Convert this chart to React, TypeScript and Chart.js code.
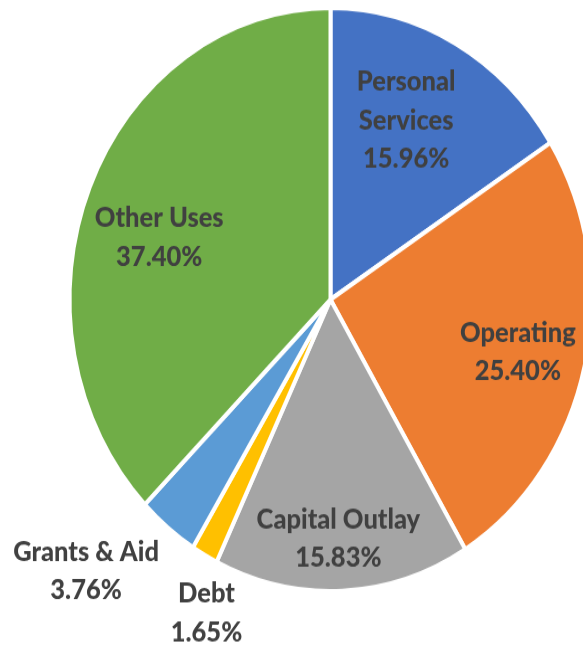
import React, { useEffect, useRef } from "react";
import { Chart, registerables } from "chart.js";

Chart.register(...registerables);

const categories = ["Personal Services", "Operating", "Capital Outlay", "Debt", "Grants & Aid", "Other Uses"];
const shares = [15.96, 25.4, 15.83, 1.65, 3.76, 37.4];
const sliceColors = ["#4472C4", "#ED7D31", "#A5A5A5", "#FFC000", "#5B9BD5", "#70AD47"];
const labelLines = [
  ["Personal", "Services"],
  ["Operating"],
  ["Capital Outlay"],
  ["Debt"],
  ["Grants & Aid"],
  ["Other Uses"],
];
// label placement: radial factor (of outer radius) and angular shift (deg)
const labelRadius = [0.68, 0.74, 0.82, 1.175, 1.32, 0.69];
const labelShift = [-3.5, 0.9, 0.5, -5.0, 6.6, -4.7];

const BUF_W = 661;
const BUF_H = 578;
const CSS_H = 646;

const labelPlugin = {
  id: "sliceLabels",
  afterDatasetsDraw(chart: any) {
    const { ctx } = chart;
    const meta = chart.getDatasetMeta(0);
    ctx.save();
    ctx.font = "900 25.5px Lato, 'Open Sans', sans-serif";
    ctx.fillStyle = "#404040";
    ctx.textAlign = "center";
    ctx.textBaseline = "middle";
    const lh = 34.5;
    meta.data.forEach((arc: any, i: number) => {
      const p = arc.getProps(["x", "y", "startAngle", "endAngle", "outerRadius"], true);
      const mid = (p.startAngle + p.endAngle) / 2 + (labelShift[i] * Math.PI) / 180;
      const r = p.outerRadius * labelRadius[i];
      const cx = p.x + Math.cos(mid) * r;
      const cy = p.y + Math.sin(mid) * r;
      const lines = [...labelLines[i], shares[i].toFixed(2) + "%"];
      const top = cy - ((lines.length - 1) * lh) / 2;
      lines.forEach((t, k) => ctx.fillText(t, cx, top + k * lh));
    });
    ctx.restore();
  },
};

export default function App() {
  const ref = useRef<HTMLCanvasElement>(null);
  useEffect(() => {
    document.body.style.margin = "0";
    document.body.style.overflow = "hidden";
    const chart = new Chart(ref.current!, {
      type: "pie",
      data: {
        labels: categories,
        datasets: [
          {
            data: shares,
            backgroundColor: sliceColors,
            borderColor: "#ffffff",
            borderWidth: 4,
          },
        ],
      },
      options: {
        responsive: false,
        devicePixelRatio: 1,
        animation: false,
        radius: 261,
        layout: { padding: { top: 0, bottom: 42, left: 0, right: 0 } },
        plugins: {
          legend: { display: false },
          tooltip: { enabled: false },
          title: { display: false },
        },
      },
      plugins: [labelPlugin],
    });
    return () => chart.destroy();
  }, []);
  return (
    <div style={{ position: "fixed", left: 0, top: 0, width: 583, height: 646, overflow: "hidden", background: "#fff" }}>
      <canvas
        ref={ref}
        width={BUF_W}
        height={BUF_H}
        style={{ width: BUF_W + "px", height: CSS_H + "px", display: "block" }}
      />
    </div>
  );
}
